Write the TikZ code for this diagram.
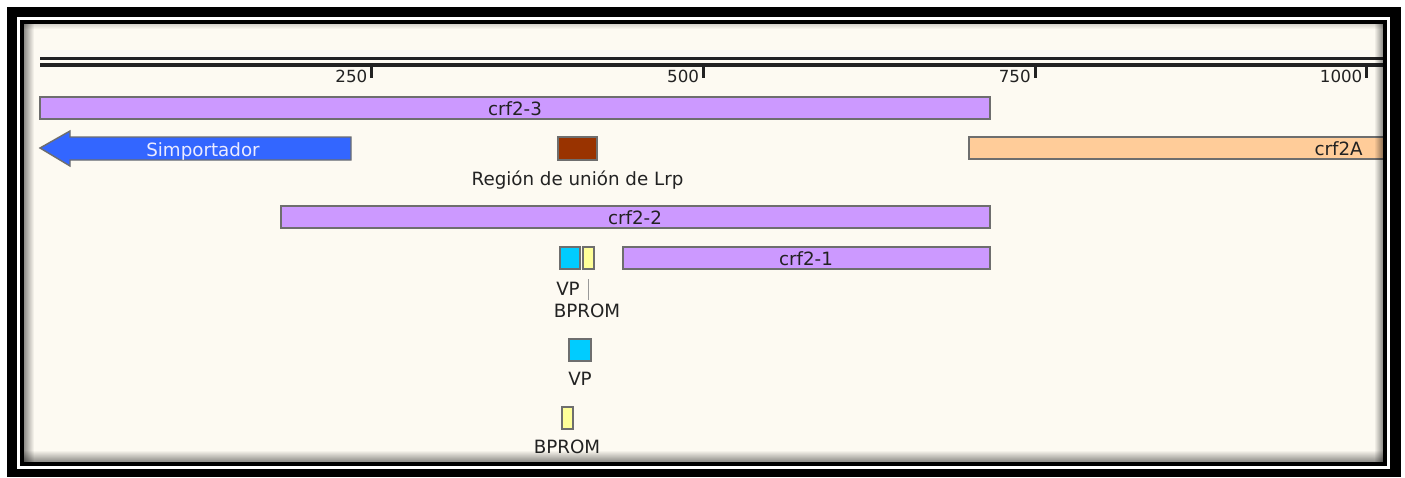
\documentclass[tikz,border=0pt]{standalone}
\usepackage{fontspec}
\setmainfont{DejaVu Sans}
\usetikzlibrary{fadings}
\definecolor{cream}{HTML}{FDFAF2}
\definecolor{ink}{HTML}{222222}
\definecolor{edge}{HTML}{6E6E6E}
\definecolor{orf}{HTML}{CC99FF}
\definecolor{symp}{HTML}{3366FF}
\definecolor{lrp}{HTML}{993300}
\definecolor{gene}{HTML}{FFCC99}
\definecolor{vp}{HTML}{00CCFF}
\definecolor{bprom}{HTML}{FFFF99}

\begin{document}
\begin{tikzpicture}[x=0.02cm,y=-0.02cm,font=\fontsize{10.4}{12}\selectfont]
\tikzstyle{feat}=[draw=edge,line width=0.8pt]
\tikzstyle{lbl}=[inner sep=0pt,text=ink,anchor=base]
\tikzstyle{ticklbl}=[inner sep=0pt,text=ink,anchor=base east,font=\fontsize{9.5}{10}\selectfont]
\tikzstyle{leader}=[draw=edge!70,line width=0.5pt]
\useasboundingbox (0,0) rectangle (1405,477);

% frame
\fill[white] (0,0) rectangle (1405,477);
\fill[black] (7,7) rectangle (1401,477);
\fill[white] (17,17) rectangle (1390,469);
\fill[black] (20,20) rectangle (1387,466);
\fill[cream] (23.5,24) rectangle (1383,462);

% ruler
\draw[ink,line width=1.7pt] (40,58.5) -- (1383,58.5);
\draw[ink,line width=2.6pt] (40,65) -- (1383,65);
\foreach \p in {250,500,750,1000}{
  \pgfmathsetmacro\tx{40+1.3267*\p}
  \coordinate (t\p) at (\tx,66);
  \draw[ink,line width=1.7pt] (t\p) -- (\tx,78);
  \node[ticklbl] (n\p) at (\tx-4,82) {\p};
}

% features
\draw[feat,fill=orf] (40,97) rectangle (990,119);
\node[lbl] (c3) at (515,115) {crf2-3};

\draw[feat,fill=symp] (40,148) -- (70,131) -- (70,137) -- (351,137)
  -- (351,160) -- (70,160) -- (70,166) -- cycle;
\node[lbl,text=white!92!blue] (sim) at (203,156) {Simportador};

\draw[feat,fill=lrp] (558,137) rectangle (597,160);
\node[lbl] (lrpl) at (577.5,185) {Región de unión de Lrp};

% crf2A runs on past the end of the map
\fill[gene] (969,137) rectangle (1383,159);
\draw[feat] (1383,137) -- (969,137) -- (969,159) -- (1383,159);
\node[lbl,anchor=base east] (c2a) at (1363,155) {crf2A};

\draw[feat,fill=orf] (281,206) rectangle (990,228);
\node[lbl] (c2) at (635,224) {crf2-2};

\draw[feat,fill=orf] (623,247) rectangle (990,269);
\node[lbl] (c1) at (806,265) {crf2-1};

\draw[feat,fill=vp] (560,247) rectangle (580,269);
\draw[feat,fill=bprom] (583,247) rectangle (594,269);
\node[lbl] (v1) at (568,295) {VP};
\node[lbl] (b1) at (587,317) {BPROM};
\coordinate (ld) at (588,279);
\draw[leader] (ld) -- ([yshift=2pt]ld |- b1.north);

\draw[feat,fill=vp] (569,339) rectangle (591,361);
\node[lbl] (v2) at (580,385) {VP};

\draw[feat,fill=bprom] (562,407) rectangle (573,429);
\node[lbl] (b2) at (567,453) {BPROM};

% inner shadow
\fill[black,fill opacity=0.45,path fading=east] (23.5,24) rectangle (34,462);
\fill[black,fill opacity=0.45,path fading=north] (23.5,450) rectangle (1383,462);
\fill[black,fill opacity=0.45,path fading=west] (1374,24) rectangle (1383,462);
\fill[black,fill opacity=0.15,path fading=south] (23.5,24) rectangle (1383,29);

\end{tikzpicture}
\end{document}
